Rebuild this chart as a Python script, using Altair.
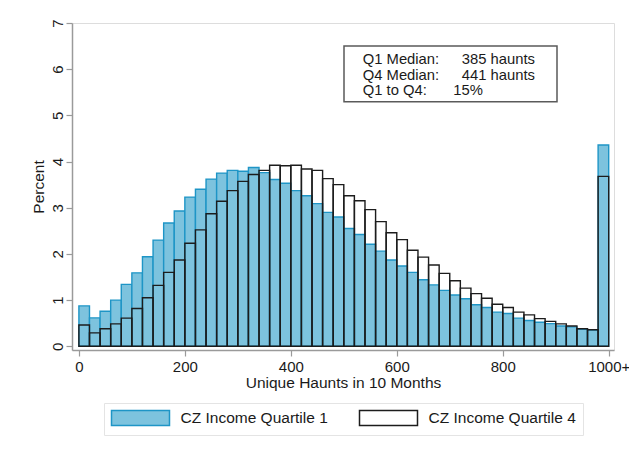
import altair as alt
import pandas as pd

# ---------------- data ----------------
bin_starts = list(range(0, 1000, 20))   # last bin (980-1000) is the "1000+" bin
q1_pct = [0.875, 0.615, 0.76, 1.00, 1.34, 1.59, 1.94, 2.30, 2.67, 2.93,
          3.23, 3.40, 3.62, 3.75, 3.81, 3.79, 3.87, 3.76, 3.61, 3.53,
          3.37, 3.26, 3.09, 2.90, 2.80, 2.55, 2.42, 2.21, 2.06, 1.87,
          1.74, 1.60, 1.44, 1.33, 1.21, 1.11, 1.03, 0.90, 0.84, 0.74,
          0.71, 0.61, 0.56, 0.52, 0.49, 0.44, 0.42, 0.37, 0.35, 4.36]
q4_pct = [0.46, 0.29, 0.38, 0.485, 0.61, 0.82, 1.05, 1.32, 1.60, 1.87,
          2.23, 2.52, 2.87, 3.14, 3.37, 3.57, 3.72, 3.81, 3.92, 3.91,
          3.92, 3.84, 3.81, 3.63, 3.50, 3.26, 3.15, 2.96, 2.70, 2.46,
          2.31, 2.08, 1.93, 1.76, 1.58, 1.42, 1.26, 1.14, 1.04, 0.91,
          0.84, 0.74, 0.68, 0.60, 0.54, 0.485, 0.44, 0.38, 0.36, 3.68]
groups = ["CZ Income Quartile 1", "CZ Income Quartile 4"]
x_ticks = [0, 200, 400, 600, 800, 1000]
y_ticks = [0, 1, 2, 3, 4, 5, 6, 7]
box_labels = ["Q1 Median:", "Q4 Median:", "Q1 to Q4:"]
box_values = ["385 haunts", "441 haunts", "15%"]

rows = []
for order, (g, vals) in enumerate(zip(groups, [q1_pct, q4_pct])):
    for s, v in zip(bin_starts, vals):
        rows.append({"start": s, "end": s + 20, "pct": v, "group": g, "ord": order})
df = pd.DataFrame(rows)

# ---------------- style ----------------
FONT = "Liberation Sans"
TXT = "#1a1a1a"
AX = "#9a9a9a"
W, H = 542, 327

legend = alt.Legend(
    title=None, orient="none", legendX=32, legendY=380, direction="horizontal",
    symbolType="M-1,-1L6.733,-1L6.733,1L-1,1Z", symbolSize=225,
    symbolStrokeWidth=1.5, labelOffset=53, columnPadding=28, padding=6.5,
    labelFont=FONT, labelFontSize=15.5, labelColor=TXT,
    fillColor="white", strokeColor="#e4e4e4",
)

bars = alt.Chart(df).mark_bar(strokeWidth=1.4).encode(
    x=alt.X("start:Q",
            scale=alt.Scale(domain=[-13, 1010], nice=False, zero=False),
            axis=alt.Axis(values=x_ticks, grid=False,
                          labelExpr="datum.value == 1000 ? '1000+' : datum.label",
                          title="Unique Haunts in 10 Months",
                          domainColor=AX, domainWidth=1.5, tickColor=AX, tickWidth=1.2,
                          tickSize=6, labelFont=FONT, labelFontSize=15, labelColor=TXT,
                          labelPadding=3, labelFlush=False, titleFont=FONT,
                          titleFontSize=15.5, titleColor=TXT, titleFontWeight="normal",
                          titlePadding=1)),
    x2="end:Q",
    y=alt.Y("pct:Q", stack=None,
            scale=alt.Scale(domain=[-0.08, 7], nice=False, zero=False),
            axis=alt.Axis(values=y_ticks, grid=False, title="Percent",
                          labelAngle=270, labelAlign="center", labelBaseline="alphabetic",
                          domainColor=AX, domainWidth=1.5, tickColor=AX, tickWidth=1.2,
                          tickSize=6, labelFont=FONT, labelFontSize=15, labelColor=TXT,
                          labelPadding=4, labelFlush=False, titleFont=FONT,
                          titleFontSize=15.5, titleColor=TXT, titleFontWeight="normal",
                          titleX=-28.5, titleBaseline="alphabetic")),
    y2=alt.datum(0),
    fill=alt.Fill("group:N", scale=alt.Scale(domain=groups, range=["#7dc3de", "transparent"]),
                  legend=legend),
    stroke=alt.Stroke("group:N", scale=alt.Scale(domain=groups, range=["#1e95c6", "#1c1c1c"]),
                      legend=legend),
    order=alt.Order("ord:Q"),
)

one = pd.DataFrame({"k": [0]})
box = alt.Chart(one).mark_rect(fill="white", stroke="#5a5a5a", strokeWidth=1.5).encode(
    x=alt.value(272), x2=alt.value(485), y=alt.value(23), y2=alt.value(78.7))

value_x = [389.7, 389.7, 381.3]
texts = []
for i, (lab, val) in enumerate(zip(box_labels, box_values)):
    ty = 41.3 + 15.2 * i
    texts.append(alt.Chart(one).mark_text(align="left", baseline="alphabetic", font=FONT,
                                          fontSize=14.8, color=TXT).encode(
        x=alt.value(290.7), y=alt.value(ty), text=alt.value(lab)))
    texts.append(alt.Chart(one).mark_text(align="left", baseline="alphabetic", font=FONT,
                                          fontSize=14.8, color=TXT).encode(
        x=alt.value(value_x[i]), y=alt.value(ty), text=alt.value(val)))

chart = alt.layer(bars, box, *texts).properties(
    width=W, height=H,
    autosize=alt.AutoSizeParams(type="none"),
    padding={"left": 64, "top": 15, "right": 15, "bottom": 91},
    background="white",
).configure_view(stroke=None).configure(font=FONT)

chart.save("out.html", embed_options={"renderer": "svg", "actions": False})
